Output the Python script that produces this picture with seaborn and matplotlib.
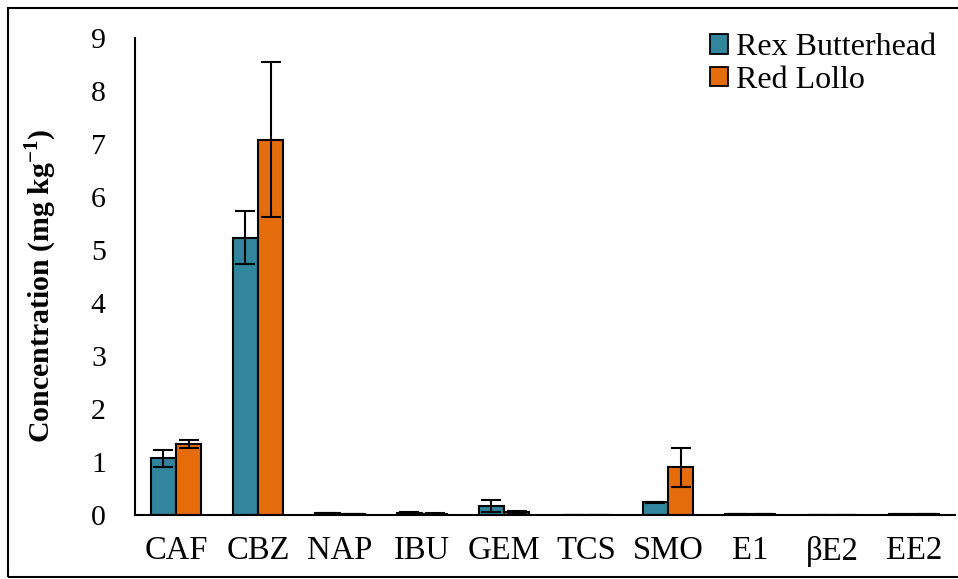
import numpy as np
import pandas as pd
import matplotlib
matplotlib.use("Agg")
import matplotlib.pyplot as plt
from matplotlib.patches import Rectangle
import seaborn as sns

compounds = ["CAF", "CBZ", "NAP", "IBU", "GEM", "TCS", "SMO", "E1", "βE2", "EE2"]
rex_mean = [1.07, 5.23, 0.03, 0.04, 0.17, 0.005, 0.24, 0.01, 0.005, 0.01]
rex_err = [0.16, 0.50, 0.01, 0.02, 0.12, 0.0, 0.01, 0.0, 0.0, 0.005]
lollo_mean = [1.34, 7.08, 0.02, 0.02, 0.06, 0.005, 0.90, 0.015, 0.005, 0.02]
lollo_err = [0.08, 1.46, 0.005, 0.01, 0.02, 0.0, 0.37, 0.005, 0.0, 0.005]
varieties = ["Rex Butterhead", "Red Lollo"]
colors = ["#31859C", "#E46C0A"]

df = pd.DataFrame({
    "compound": compounds * 2,
    "variety": [varieties[0]] * len(compounds) + [varieties[1]] * len(compounds),
    "conc": rex_mean + lollo_mean,
    "err": rex_err + lollo_err,
})

sns.set_style("white")
plt.rcParams["font.family"] = ["Liberation Serif", "DejaVu Serif"]
plt.rcParams["mathtext.fontset"] = "custom"
plt.rcParams["mathtext.rm"] = "Liberation Serif"
plt.rcParams["mathtext.bf"] = "Liberation Serif:bold"
for key in ["text.color", "axes.labelcolor", "xtick.color", "ytick.color"]:
    plt.rcParams[key] = "black"

W, H = 958, 579
fig = plt.figure(figsize=(W / 100, H / 100), dpi=100)
ax = fig.add_axes([135 / W, 1 - 515 / H, (955 - 135) / W, (515 - 38) / H])

sns.barplot(data=df, x="compound", y="conc", hue="variety", order=compounds,
            hue_order=varieties, palette=colors, width=0.61, errorbar=None,
            edgecolor="black", linewidth=1.5, saturation=1, ax=ax)

# error bars at bar centres
for container, errs, means in zip(ax.containers, [rex_err, lollo_err], [rex_mean, lollo_mean]):
    for patch, e, m in zip(container.patches, errs, means):
        cx = patch.get_x() + patch.get_width() / 2
        ax.errorbar(cx, m, yerr=e, fmt="none", ecolor="black", elinewidth=1.5,
                    capsize=7, capthick=1.5, zorder=5)

ax.set_xlim(-0.5, len(compounds) - 0.5)
ax.set_ylim(0, 9)
ax.set_yticks(range(0, 10))
ax.set_xlabel("")
ax.set_ylabel("Concentration (mg kg$^{\\mathbf{-1}}$)", fontsize=21.5, fontweight="bold")
ax.yaxis.set_label_coords(-(135 - 59) / (955 - 135), 0.48)

# category boundary ticks on the x axis
ax.set_xticks(np.arange(len(compounds)))
ax.set_xticklabels(compounds)
ax.set_xticks(np.arange(len(compounds) + 1) - 0.5, minor=True)
ax.tick_params(axis="x", which="major", length=0, labelsize=23.5, pad=15)
ax.tick_params(axis="x", which="minor", length=8, width=1.5, direction="out", color="black")
ax.tick_params(axis="y", which="major", length=8, width=1.5, direction="out",
               color="black", labelsize=21.5, pad=13)

for side in ["top", "right"]:
    ax.spines[side].set_visible(False)
for side in ["left", "bottom"]:
    ax.spines[side].set_color("black")
    ax.spines[side].set_linewidth(1.5)

leg = ax.legend(loc="upper right", bbox_to_anchor=(1.0, 1.05), frameon=False, fontsize=23,
                handlelength=0.55, handleheight=0.55, handletextpad=0.25, labelspacing=0.1,
                borderaxespad=0.2)
for h in leg.legend_handles:
    h.set_edgecolor("black")
    h.set_linewidth(1.3)

# figure border
fig.patches.append(Rectangle((8 / W, 1 - 577 / H), (W + 5 - 8) / W, (577 - 8) / H,
                             transform=fig.transFigure, fill=False, edgecolor="black",
                             linewidth=1.5, clip_on=False))

fig.savefig("out.png", dpi=100)
